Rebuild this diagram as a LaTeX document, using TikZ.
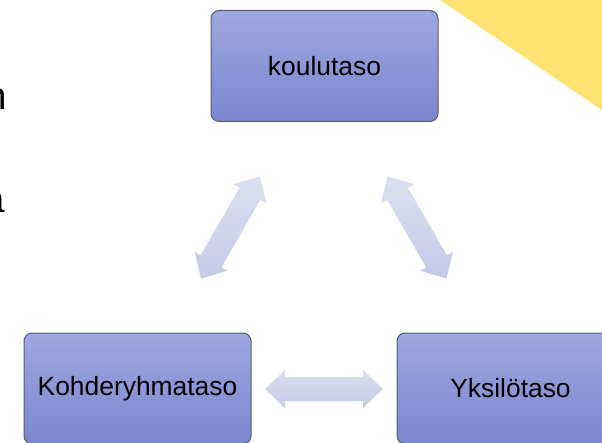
\documentclass[tikz,border=0pt]{standalone}
\usepackage{fontspec}
\setmainfont{Liberation Sans}
\usetikzlibrary{calc}
\definecolor{boxtop}{RGB}{157,167,224}
\definecolor{boxbot}{RGB}{122,135,206}
\definecolor{boxline}{RGB}{88,92,112}
\definecolor{arrtop}{RGB}{220,223,240}
\definecolor{arrbot}{RGB}{196,201,230}
\definecolor{sunny}{RGB}{255,226,114}
\tikzset{
  levelbox/.style={draw=boxline, line width=1pt, rounded corners=8pt,
    top color=boxtop, bottom color=boxbot,
    minimum width=227pt, minimum height=111pt, inner sep=0pt,
    font=\fontsize{26.4pt}{30pt}\selectfont, text=black},
  cuttext/.style={anchor=base east, inner sep=0pt, font=\fontsize{38.5pt}{44pt}\selectfont, text=black},
  dblarrow/.pic={
    \shade[top color=arrtop, bottom color=arrbot]
      (#1:59) -- ($(#1:39)+(#1+90:19)$) -- ($(#1:39)+(#1+90:12)$)
      -- ($(#1+180:39)+(#1+90:12)$) -- ($(#1+180:39)+(#1+90:19)$)
      -- (#1+180:59) -- ($(#1+180:39)+(#1-90:19)$) -- ($(#1+180:39)+(#1-90:12)$)
      -- ($(#1:39)+(#1-90:12)$) -- ($(#1:39)+(#1-90:19)$) -- cycle;
  }
}
\begin{document}
\begin{tikzpicture}[x=1pt,y=1pt]
\useasboundingbox (0,0) rectangle (602,442);
\clip (0,0) rectangle (602,442);
% yellow corner
\fill[sunny] (440,442) -- (602,442) -- (602,332) -- cycle;
% cut-off text at left edge
\node[cuttext] (cutn) at (6.7,332) {n};
\node[cuttext] (cuta) at (5,229) {a};
% boxes
\node[levelbox] (koulu) at (324.5,376) {koulutaso};
\node[levelbox] (kohde) at (137.5,53.5) {Kohderyhmataso};
\node[levelbox] (yksi) at (510.5,53.5) {Yksilötaso};
% arrows
\coordinate (arrL) at (230.5,214.5);
\coordinate (arrR) at (417,214.5);
\coordinate (arrB) at (324,53);
\pic at (arrL) {dblarrow=60};
\pic at (arrR) {dblarrow=-60};
\pic at (arrB) {dblarrow=0};
\end{tikzpicture}
\end{document}
